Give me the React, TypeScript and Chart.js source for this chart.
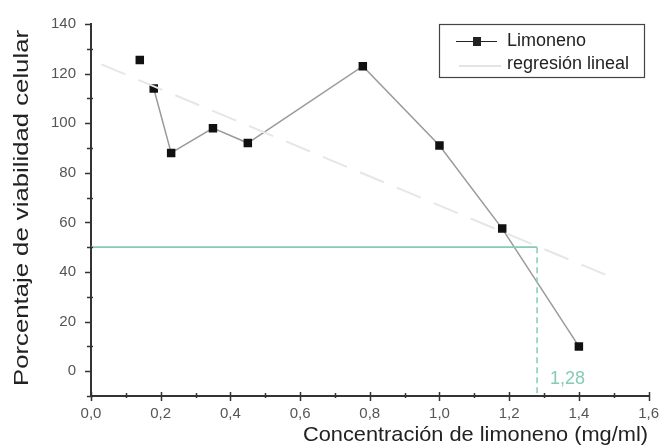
import React, { useEffect, useRef } from "react";
import { Chart, registerables } from "chart.js";

Chart.register(...registerables);

const concentrations = [0.14, 0.18, 0.23, 0.35, 0.45, 0.78, 1.0, 1.18, 1.4];
const viability = [125.5, 114, 88, 98, 92, 123, 91, 57.5, 10];
const regressionX = [0.03, 1.5];
const regressionY = [123.7, 37.5];
const ic50X = 1.28;
const ic50Y = 50;
const yMajorTicks = [0, 20, 40, 60, 80, 100, 120, 140];
const xMajorTicks = [0, 0.2, 0.4, 0.6, 0.8, 1.0, 1.2, 1.4, 1.6];
const seriesLabels = ["Limoneno", "regresión lineal"];
const xTitle = "Concentración de limoneno (mg/ml)";
const yTitle = "Porcentaje de viabilidad celular";
const ic50Label = "1,28";

const FONT = "'Liberation Sans', Arial, Helvetica, sans-serif";
const GREEN = "#86cbb4";
const AXIS = "#333";

const fmt = (v: number) => v.toFixed(1).replace(".", ",");

function stretchedText(ctx: any, text: string, x: number, y: number, targetW: number) {
  const w = ctx.measureText(text).width;
  const s = targetW / w;
  ctx.save();
  ctx.translate(x, y);
  ctx.scale(s, 1);
  ctx.fillText(text, 0, 0);
  ctx.restore();
}

const decorPlugin = {
  id: "decor",
  afterDraw(chart: any) {
    const ctx = chart.ctx;
    const xs = chart.scales.x;
    const ys = chart.scales.y;
    const ax = xs.left;
    const ay = ys.bottom;
    ctx.save();
    ctx.strokeStyle = AXIS;
    ctx.lineWidth = 1.5;
    for (let v = -10; v <= 140; v += 10) {
      const py = Math.round(ys.getPixelForValue(v)) + 0.5;
      const major = v % 20 === 0;
      ctx.beginPath();
      ctx.moveTo(ax - (major ? 6 : 4), py);
      ctx.lineTo(ax + (major ? 1 : 2), py);
      ctx.stroke();
    }
    for (let i = 0; i <= 16; i++) {
      const v = i / 10;
      const px = Math.round(xs.getPixelForValue(v)) + 0.5;
      const major = i % 2 === 0;
      ctx.beginPath();
      ctx.moveTo(px, ay - (major ? 4 : 3));
      ctx.lineTo(px, ay + (major ? 5 : 2));
      ctx.stroke();
    }
    // IC50 label
    ctx.fillStyle = GREEN;
    ctx.font = "18px " + FONT;
    ctx.textBaseline = "middle";
    ctx.textAlign = "left";
    ctx.fillText(ic50Label, xs.getPixelForValue(ic50X) + 13, ys.getPixelForValue(-3));

    // axis titles
    ctx.fillStyle = "#222";
    ctx.textBaseline = "alphabetic";
    ctx.textAlign = "left";
    ctx.font = "21px " + FONT;
    stretchedText(ctx, xTitle, 303, 441, 345);
    ctx.font = "20px " + FONT;
    ctx.save();
    ctx.translate(28, 386);
    ctx.rotate(-Math.PI / 2);
    stretchedText(ctx, yTitle, 0, 0, 356);
    ctx.restore();

    // legend box
    const bx = 439, by = 24, bw = 205, bh = 53;
    ctx.strokeStyle = "#444";
    ctx.lineWidth = 1.2;
    ctx.strokeRect(bx + 0.5, by + 0.5, bw, bh);
    ctx.font = "18px " + FONT;
    ctx.textBaseline = "middle";
    ctx.fillStyle = "#222";
    ctx.strokeStyle = "#222";
    ctx.lineWidth = 1.2;
    ctx.beginPath();
    ctx.moveTo(456, 41.5);
    ctx.lineTo(497, 41.5);
    ctx.stroke();
    ctx.fillRect(473, 37, 8, 9);
    ctx.fillText(seriesLabels[0], 507, 41);
    ctx.strokeStyle = "#e4e4e4";
    ctx.lineWidth = 2;
    ctx.beginPath();
    ctx.moveTo(459, 66);
    ctx.lineTo(501, 66);
    ctx.stroke();
    ctx.fillStyle = "#222";
    ctx.fillText(seriesLabels[1], 507, 64);
    ctx.restore();
  },
};

export default function App() {
  const ref = useRef<HTMLCanvasElement>(null);
  useEffect(() => {
    const chart = new Chart(ref.current!, {
      type: "line",
      data: {
        datasets: [
          {
            label: seriesLabels[1],
            data: regressionX.map((x, i) => ({ x, y: regressionY[i] })),
            borderColor: "#e6e6e6",
            borderWidth: 2,
            borderDash: [26, 14],
            pointRadius: 0,
          },
          {
            label: "IC50 h",
            data: [
              { x: 0, y: ic50Y },
              { x: ic50X, y: ic50Y },
            ],
            borderColor: GREEN,
            borderWidth: 1.8,
            pointRadius: 0,
          },
          {
            label: "IC50 v",
            data: [
              { x: ic50X, y: ic50Y },
              { x: ic50X, y: -10 },
            ],
            borderColor: GREEN,
            borderWidth: 1.5,
            borderDash: [6, 4],
            pointRadius: 0,
          },
          {
            label: seriesLabels[0],
            data: concentrations.map((x, i) => ({ x, y: viability[i] })),
            borderColor: "#9a9a9a",
            borderWidth: 1.5,
            pointStyle: "rect",
            pointRadius: 6,
            pointBorderWidth: 0,
            pointBackgroundColor: "#111",
            pointBorderColor: "#111",
            segment: {
              borderColor: (c: any) => (c.p0DataIndex === 0 ? "rgba(0,0,0,0)" : "#9a9a9a"),
            },
          },
        ],
      },
      options: {
        animation: false,
        responsive: false,
        maintainAspectRatio: false,
        layout: { padding: { top: 24, right: 14, left: 0, bottom: 0 } },
        plugins: { legend: { display: false }, tooltip: { enabled: false } },
        scales: {
          x: {
            type: "linear",
            min: 0,
            max: 1.6,
            afterBuildTicks: (s: any) => {
              s.ticks = xMajorTicks.map((v) => ({ value: v }));
            },
            afterFit: (s: any) => {
              s.height = 50;
            },
            grid: { display: false, drawTicks: false },
            border: { display: true, color: AXIS, width: 2 },
            ticks: {
              padding: 9,
              color: "#555",
              font: { family: FONT, size: 15 },
              maxRotation: 0,
              callback: (v: any) => fmt(Number(v)),
            },
          },
          y: {
            type: "linear",
            min: -10,
            max: 140,
            afterBuildTicks: (s: any) => {
              s.ticks = yMajorTicks.map((v) => ({ value: v }));
            },
            afterFit: (s: any) => {
              s.width = 91;
            },
            grid: { display: false, drawTicks: false },
            border: { display: true, color: AXIS, width: 2 },
            ticks: {
              padding: 15,
              color: "#555",
              font: { family: FONT, size: 15 },
            },
          },
        },
      } as any,
      plugins: [decorPlugin],
    });
    return () => chart.destroy();
  }, []);
  return (
    <div style={{ position: "fixed", left: 0, top: 0, width: 668, height: 446, background: "#fff" }}>
      <canvas ref={ref} width={668} height={446} />
    </div>
  );
}
